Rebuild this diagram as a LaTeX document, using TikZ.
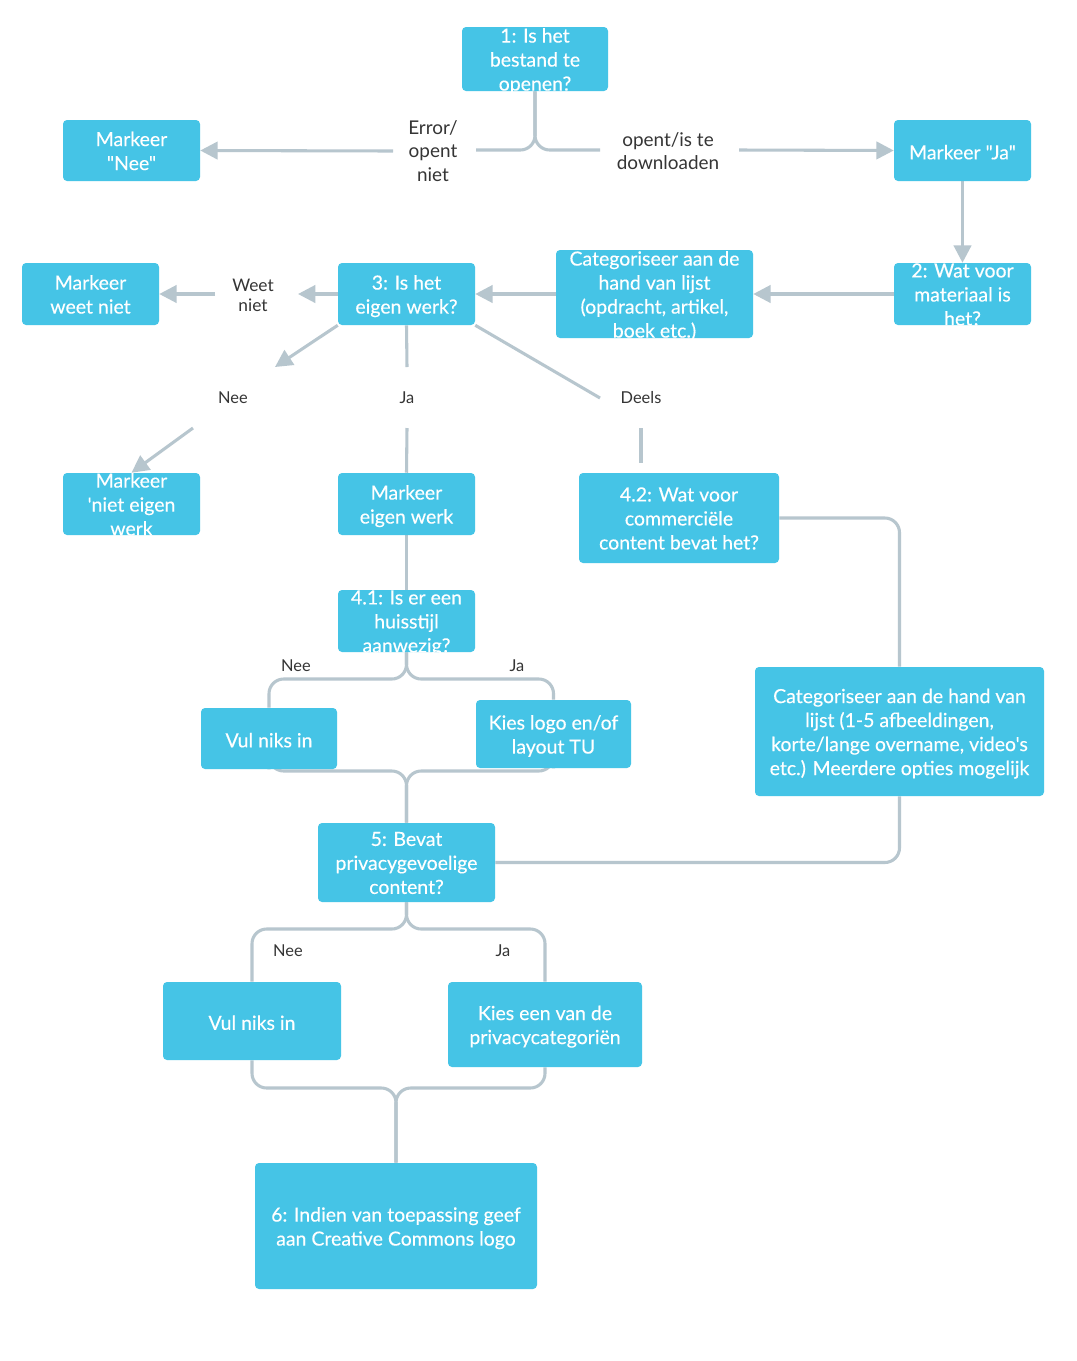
\documentclass[tikz,border=0pt]{standalone}
\usepackage{fontspec}
\setmainfont{Lato}[Ligatures=TeXOff]
\newfontfamily\boxfont{Lato}[Ligatures=TeXOff,FakeBold=0.3]
\usetikzlibrary{arrows.meta,fit}
\definecolor{boxc}{HTML}{45C4E6}
\definecolor{linec}{HTML}{B7C6CE}
\definecolor{labc}{HTML}{353535}
\pgfdeclarelayer{back}
\pgfdeclarelayer{bg}
\pgfsetlayers{back,bg,main}
\tikzset{
  box/.style={fill=boxc, draw=none, rounded corners=3pt, inner sep=0pt},
  btext/.style={text=white, align=center, font=\boxfont\fontsize{14.6}{18}\selectfont, inner sep=0pt,
    yshift=-3pt, execute at begin node=\strut, execute at end node=\strut},
  lab/.style={text=labc, align=center, font=\fontsize{14.2}{17.6}\selectfont, inner sep=0pt},
  slab/.style={text=labc, align=center, font=\fontsize{13}{15}\selectfont, inner sep=0pt},
  tlab/.style={text=labc, align=center, font=\fontsize{12.3}{14}\selectfont, inner sep=0pt},
  conn/.style={draw=linec, line width=2.3pt},
  arr/.style={conn, -{Triangle[length=13pt,width=13pt]}},
  junc/.style={conn, rounded corners=11pt},
}
\begin{document}
\begin{tikzpicture}[x=0.75pt,y=-0.75pt]
\useasboundingbox (0,0) rectangle (1077,1361);
\begin{pgfonlayer}{back}
\fill[white] (0,0) rectangle (1077,1361);
\end{pgfonlayer}
% boxes
\node[box, fit={(462,27) (608,91)}] (b1) {};
\node[box, fit={(63,120) (200,181)}] (mnee) {};
\node[box, fit={(894,120) (1031,181)}] (mja) {};
\node[box, fit={(894,263) (1031,325)}] (b2) {};
\node[box, fit={(556,250) (753,338)}] (cat1) {};
\node[box, fit={(338,263) (475,325)}] (b3) {};
\node[box, fit={(22,263) (159,325)}] (mweet) {};
\node[box, fit={(63,473) (200,535)}] (mniet) {};
\node[box, fit={(338,473) (475,535)}] (meigen) {};
\node[box, fit={(579,473) (779,563)}] (b42) {};
\node[box, fit={(338,590) (475,652)}] (b41) {};
\node[box, fit={(201,708) (337,769)}] (vul1) {};
\node[box, fit={(476,700) (631,768)}] (kies1) {};
\node[box, fit={(755,667) (1044,796)}] (cat2) {};
\node[box, fit={(318,823) (495,902)}] (b5) {};
\node[box, fit={(163,982) (341,1060)}] (vul2) {};
\node[box, fit={(448,982) (642,1067)}] (kies2) {};
\node[box, fit={(255,1163) (537,1289)}] (b6) {};
% box texts
\node[btext] (b1t) at (b1.center) {1: Is het\\bestand te\\openen?};
\node[btext] (mneet) at (mnee.center) {Markeer\\"Nee"};
\node[btext] (mjat) at (mja.center) {Markeer "Ja"};
\node[btext] (b2t) at (b2.center) {2: Wat voor\\materiaal is\\het?};
\node[btext] (cat1t) at (cat1.center) {Categoriseer aan de\\hand van lijst\\(opdracht, artikel,\\boek etc.)};
\node[btext] (b3t) at (b3.center) {3: Is het\\eigen werk?};
\node[btext] (mweett) at (mweet.center) {Markeer\\weet niet};
\node[btext] (mniett) at (mniet.center) {Markeer\\'niet eigen\\werk};
\node[btext] (meigent) at (meigen.center) {Markeer\\eigen werk};
\node[btext] (b42t) at (b42.center) {4.2: Wat voor\\commerciële\\content bevat het?};
\node[btext] (b41t) at (b41.center) {4.1: Is er een\\huisstijl\\aanwezig?};
\node[btext] (vul1t) at (vul1.center) {Vul niks in};
\node[btext] (kies1t) at (kies1.center) {Kies logo en/of\\layout TU};
\node[btext] (cat2t) at (cat2.center) {Categoriseer aan de hand van\\lijst (1-5 afbeeldingen,\\korte/lange overname, video's\\etc.) Meerdere opties mogelijk};
\node[btext] (b5t) at (b5.center) {5: Bevat\\privacygevoelige\\content?};
\node[btext] (vul2t) at (vul2.center) {Vul niks in};
\node[btext] (kies2t) at (kies2.center) {Kies een van de\\privacycategoriën};
\node[btext] (b6t) at (b6.center) {6: Indien van toepassing geef\\aan Creative Commons logo};
% labels
\node[lab] (lerr) at (433,151) {Error/\\opent\\niet};
\node[lab] (lopent) at (668,151) {opent/is te\\downloaden};
\node[slab] (lweet) at (253,295) {Weet\\niet};
\node[tlab] (lnee1) at (233,398) {Nee};
\node[tlab] (lja1) at (407,398) {Ja};
\node[tlab] (ldeels) at (641,398) {Deels};
\node[tlab] (lnee2) at (296,666) {Nee};
\node[tlab] (lja2) at (517,666) {Ja};
\node[tlab] (lnee3) at (288,951) {Nee};
\node[tlab] (lja3) at (503,951) {Ja};
% coordinates
\coordinate (eL) at (476,150);
\coordinate (eR) at (600,150);
\coordinate (eL2) at (393,151);
\coordinate (eR2) at (739,150);
\coordinate (w1) at (298,294);
\coordinate (w2) at (215,294);
\coordinate (n1) at (275,367);
\coordinate (n2) at (193,428);
\coordinate (j1) at (407,367);
\coordinate (j2) at (407,428);
\coordinate (d1) at (600,398);
\coordinate (d2) at (641,428);
\coordinate (d3) at (641,463);
\coordinate (k41) at (0,679);
\coordinate (k5) at (0,771);
\coordinate (k6) at (0,929);
\coordinate (k7) at (0,1088);
\begin{pgfonlayer}{bg}
\draw[junc] (eL) -| (b1.south);
\draw[junc] (b1.south) |- (eR);
\draw[arr] (eL2) -- (mnee.east);
\draw[arr] (eR2) -- (mja.west);
\draw[arr] (mja.south) -- (b2.north);
\draw[arr] (b2.west) -- (cat1.east);
\draw[arr] (cat1.west) -- (b3.east);
\draw[arr] (b3.west) -- (w1);
\draw[arr] (w2) -- (mweet.east);
\draw[arr] (b3.south west) -- (n1);
\draw[arr] (n2) -- (mniet.north);
\draw[conn] (b3.south) -- (j1);
\draw[conn] (j2) -- (meigen.north);
\draw[conn] (b3.south east) -- (d1);
\draw[conn] (d2) -- (d3);
\draw[conn] (meigen.south) -- (b41.north);
\draw[junc] (b41.south) |- (vul1.north |- k41) -- (vul1.north);
\draw[junc] (b41.south) |- (kies1.north |- k41) -- (kies1.north);
\draw[junc] (vul1.south) |- (b5.north |- k5) -- (b5.north);
\draw[junc] (kies1.south) |- (b5.north |- k5) -- (b5.north);
\draw[junc] (b42.east) -| (cat2.north);
\draw[junc] (cat2.south) |- (b5.east);
\draw[junc] (b5.south) |- (vul2.north |- k6) -- (vul2.north);
\draw[junc] (b5.south) |- (kies2.north |- k6) -- (kies2.north);
\draw[junc] (vul2.south) |- (b6.north |- k7) -- (b6.north);
\draw[junc] (kies2.south) |- (b6.north |- k7) -- (b6.north);
\end{pgfonlayer}
\end{tikzpicture}
\end{document}
